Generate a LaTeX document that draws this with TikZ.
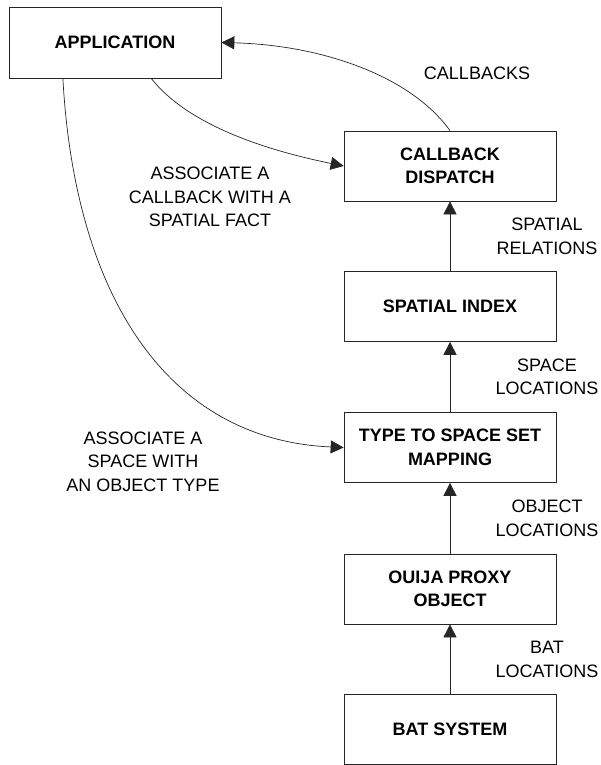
\documentclass[tikz,border=0pt]{standalone}
\usepackage{fontspec}
\setmainfont{Liberation Sans}
\usepackage{tikz}
\usetikzlibrary{arrows.meta,positioning,calc}
\tikzset{
  bsbox/.style={
    rectangle, draw=black!85, fill=white, line width=0.7pt,
    minimum width=212pt, minimum height=70pt, inner sep=2pt,
    align=center, font=\fontsize{18}{23.5}\selectfont\bfseries
  },
  bsedge/.style={-{Triangle[length=13pt,width=13pt]},line width=0.7pt,draw=black!85},
  bslabel/.style={font=\fontsize{18}{23.5}\selectfont,align=center,inner sep=1pt}
}
\begin{document}
\begin{tikzpicture}[x=1pt,y=-1pt,lab/.style={bslabel}]
  \useasboundingbox (0,0) rectangle (600,765);
  % boxes
  \node[bsbox,minimum height=71pt] (app) at (115,42.5) {APPLICATION};
  \node[bsbox] (cbd)   at (450,166)   {CALLBACK\\DISPATCH};
  \node[bsbox] (sidx)  at (450,306.5) {SPATIAL INDEX};
  \node[bsbox] (tmap)  at (450,447.5) {TYPE TO SPACE SET\\MAPPING};
  \node[bsbox] (proxy) at (450,589)   {OUIJA PROXY\\OBJECT};
  \node[bsbox] (bat)   at (450,729.5) {BAT SYSTEM};
  % data flow up the stack
  \draw[bsedge] (bat)   -- node[lab,xshift=97pt] {BAT\\LOCATIONS} (proxy);
  \draw[bsedge] (proxy) -- node[lab,xshift=97pt] {OBJECT\\LOCATIONS} (tmap);
  \draw[bsedge] (tmap)  -- node[lab,xshift=97pt] {SPACE\\LOCATIONS} (sidx);
  \draw[bsedge] (sidx)  -- node[lab,xshift=97pt] {SPATIAL\\RELATIONS} (cbd);
  % curved links to and from the application
  \draw[bsedge] (cbd.north) .. controls (410,75) and (320,45) .. (app.east);
  \node[lab] (cblab) at (477,73) {CALLBACKS};
  \draw[bsedge] ($(app.south west)!0.67!(app.south east)$) .. controls (188,125) and (265,150) .. (cbd.west);
  \node[lab] (factlab) at (210,197) {ASSOCIATE A\\CALLBACK WITH A\\SPATIAL FACT};
  \draw[bsedge] ($(app.south west)!0.255!(app.south east)$) .. controls (75,300) and (170,440) .. (tmap.west);
  \node[lab] (typelab) at (143,461.5) {ASSOCIATE A\\SPACE WITH\\AN OBJECT TYPE};
\end{tikzpicture}
\end{document}
